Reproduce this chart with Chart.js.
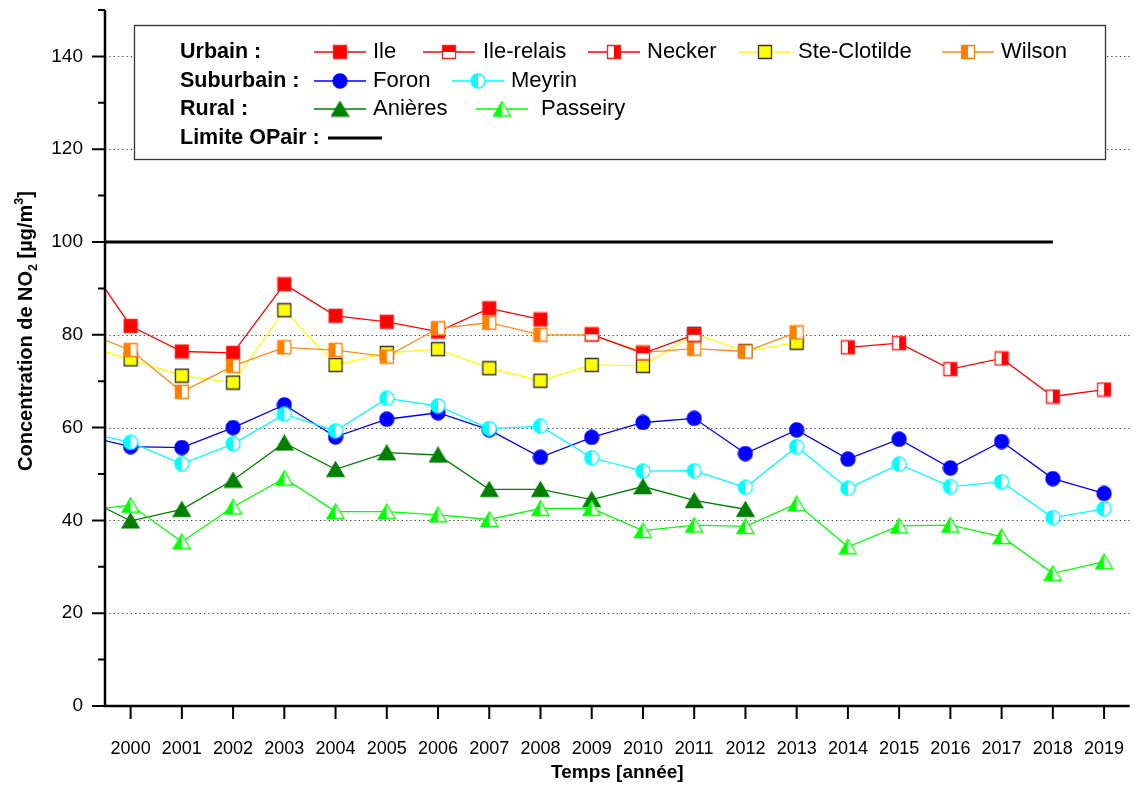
<!DOCTYPE html>
<html>
<head>
<meta charset="utf-8">
<script src="https://cdn.jsdelivr.net/npm/chart.js@4.4.0/dist/chart.umd.min.js"></script>
<style>
  html, body { margin: 0; padding: 0; background: #fff; }
  #wrap { width: 1138px; height: 787px; }
</style>
</head>
<body>
<div id="wrap"><canvas id="no2" width="1138" height="787"></canvas></div>
<script>
// --- data (annual NO2 means, µg/m3) ---
const years = [1999, 2000, 2001, 2002, 2003, 2004, 2005, 2006, 2007, 2008, 2009,
               2010, 2011, 2012, 2013, 2014, 2015, 2016, 2017, 2018, 2019];
const tickYears = years.slice(1);

const ile         = [98, 81.9, 76.4, 76.1, 90.9, 84.1, 82.8, 80.7, 85.7, 83.3, null,
                     null, null, null, null, null, null, null, null, null, null];
const ileRelais   = [null, null, null, null, null, null, null, null, null, null, 80.1,
                     76.0, 80.0, null, null, null, null, null, null, null, null];
const necker      = [null, null, null, null, null, null, null, null, null, null, null,
                     null, null, null, null, 77.3, 78.2, 72.6, 74.9, 66.7, 68.2];
const steClotilde = [78, 74.7, 71.2, 69.7, 85.3, 73.5, 76.1, 76.9, 72.8, 70.1, 73.5,
                     73.3, 80.2, 76.5, 78.3, null, null, null, null, null, null];
const wilson      = [81, 76.7, 67.7, 73.3, 77.3, 76.7, 75.3, 81.4, 82.6, 80.0, 80.0,
                     76.2, 77.0, 76.4, 80.5, null, null, null, null, null, null];
const foron       = [58.5, 55.9, 55.7, 60.0, 64.9, 58.0, 61.8, 63.2, 59.5, 53.6, 57.9,
                     61.1, 62.0, 54.4, 59.5, 53.2, 57.5, 51.3, 57.0, 49.0, 45.8];
const meyrin      = [59.3, 56.8, 52.2, 56.5, 62.9, 59.3, 66.3, 64.7, 59.8, 60.3, 53.5,
                     50.6, 50.7, 47.1, 55.9, 46.9, 52.1, 47.3, 48.3, 40.6, 42.5];
const anieres     = [45.4, 39.9, 42.4, 48.7, 56.7, 51.0, 54.6, 54.1, 46.7, 46.7, 44.5,
                     47.3, 44.3, 42.4, null, null, null, null, null, null, null];
const passeiry    = [42, 43.3, 35.4, 42.9, 49.1, 41.9, 41.9, 41.2, 40.2, 42.6, 42.6,
                     37.8, 39.0, 38.7, 43.6, 34.3, 38.8, 39.0, 36.5, 28.6, 31.1];

const limitYears  = [1999, 2018];
const limitValues = [100, 100];

const yLabelTicks = [0, 20, 40, 60, 80, 100, 120, 140];
const yMinorTicks = [10, 30, 50, 70, 90, 110, 130, 150];
const dottedGrid  = [20, 40, 60, 80, 120, 140];

const FONT = "'Liberation Sans', Arial, sans-serif";

// marker images (some half-filled like in Origin)
function makeMarker(shape, color, border, half) {
  const w = shape === 'triangle' ? 19 : 16;
  const h = shape === 'triangle' ? 17 : 16;
  const c = document.createElement('canvas');
  c.width = w; c.height = h;
  const g = c.getContext('2d');
  const path = () => {
    g.beginPath();
    if (shape === 'square') g.rect(1.5, 1.5, w - 3, h - 3);
    else if (shape === 'circle') g.arc(w / 2, h / 2, w / 2 - 1, 0, Math.PI * 2);
    else { g.moveTo(w / 2, 1); g.lineTo(w - 1, h - 1.5); g.lineTo(1, h - 1.5); g.closePath(); }
  };
  path();
  g.fillStyle = half ? '#fff' : color;
  g.fill();
  if (half) {
    g.save();
    g.beginPath();
    if (half === 'top') g.rect(0, 0, w, h / 2);
    if (half === 'left') g.rect(0, 0, w / 2, h);
    if (half === 'right') g.rect(w / 2, 0, w / 2, h);
    g.clip();
    path();
    g.fillStyle = color;
    g.fill();
    g.restore();
  }
  path();
  g.lineWidth = 1.3;
  g.strokeStyle = border;
  g.stroke();
  return c;
}

const series = [
  { label: 'Ile',          values: ile,         color: '#ff0000', marker: makeMarker('square', '#ff0000', '#ff2020'),            layer: 1 },
  { label: 'Ile-relais',   values: ileRelais,   color: '#ff0000', marker: makeMarker('square', '#ff0000', '#ff2020', 'top'),     layer: 5 },
  { label: 'Necker',       values: necker,      color: '#ff0000', marker: makeMarker('square', '#ff0000', '#ff2020', 'right'),   layer: 2 },
  { label: 'Ste-Clotilde', values: steClotilde, color: '#ffff00', marker: makeMarker('square', '#ffff00', '#333333'),            layer: 3 },
  { label: 'Wilson',       values: wilson,      color: '#ff8c1a', marker: makeMarker('square', '#ff8000', '#ff8000', 'left'),    layer: 4 },
  { label: 'Foron',        values: foron,       color: '#0000ff', marker: makeMarker('circle', '#0000ff', '#0000ff'),            layer: 6 },
  { label: 'Meyrin',       values: meyrin,      color: '#00ffff', marker: makeMarker('circle', '#00ffff', '#00ffff', 'left'),    layer: 7 },
  { label: 'Anières',      values: anieres,     color: '#008000', marker: makeMarker('triangle', '#008000', '#008000'),          layer: 8 },
  { label: 'Passeiry',     values: passeiry,    color: '#00ff00', marker: makeMarker('triangle', '#00ff00', '#00ff00', 'left'),  layer: 9 }
];

const datasets = series.map(s => ({
  label: s.label,
  data: years.map((yr, i) => ({ x: yr, y: s.values[i] })).filter(p => p.y !== null),
  borderColor: s.color,
  borderWidth: 1.3,
  pointStyle: s.marker,
  pointRadius: 7,
  order: -s.layer,
  clip: 0,
  tension: 0
}));
datasets.push({
  label: 'Limite OPair',
  data: limitYears.map((yr, i) => ({ x: yr, y: limitValues[i] })),
  borderColor: '#000',
  borderWidth: 3,
  pointRadius: 0,
  order: -20,
  clip: 0
});

// legend layout in the box
const legendRows = [
  { title: 'Urbain :', y: 52, items: [[0, 314, 373], [1, 423, 483], [2, 588, 647], [3, 739, 798], [4, 942, 1001]] },
  { title: 'Suburbain :', y: 81, items: [[5, 314, 373], [6, 452, 511]] },
  { title: 'Rural :', y: 109, items: [[7, 314, 373], [8, 476, 541]] },
  { title: 'Limite OPair :', y: 138, items: [] }
];

const frame = {
  id: 'frame',
  beforeDatasetsDraw(chart) {
    const { ctx, chartArea: a, scales: { y } } = chart;
    ctx.save();
    ctx.strokeStyle = '#444';
    ctx.lineWidth = 1.2;
    ctx.setLineDash([1.3, 3]);
    dottedGrid.forEach(v => {
      const py = Math.round(y.getPixelForValue(v)) + 0.5;
      ctx.beginPath(); ctx.moveTo(a.left, py); ctx.lineTo(a.right, py); ctx.stroke();
    });
    ctx.restore();
  },
  afterDraw(chart) {
    const { ctx, chartArea: a, scales: { x, y } } = chart;
    ctx.save();
    // axes
    ctx.strokeStyle = '#000';
    ctx.lineWidth = 2.5;
    ctx.beginPath();
    ctx.moveTo(a.left, a.top); ctx.lineTo(a.left, a.bottom); ctx.lineTo(a.right, a.bottom);
    ctx.stroke();
    ctx.lineWidth = 2;
    ctx.beginPath();
    yLabelTicks.forEach(v => { const py = y.getPixelForValue(v); ctx.moveTo(a.left - 13, py); ctx.lineTo(a.left, py); });
    yMinorTicks.forEach(v => { const py = y.getPixelForValue(v); ctx.moveTo(a.left - 7, py); ctx.lineTo(a.left, py); });
    tickYears.forEach(v => { const px = x.getPixelForValue(v); ctx.moveTo(px, a.bottom); ctx.lineTo(px, a.bottom + 13); });
    ctx.stroke();

    // axis titles
    ctx.fillStyle = '#000';
    ctx.textBaseline = 'middle';
    ctx.textAlign = 'center';
    ctx.font = `bold 19px ${FONT}`;
    ctx.fillText('Temps [année]', (a.left + a.right) / 2, 773);

    ctx.save();
    ctx.translate(25, 331);
    ctx.rotate(-Math.PI / 2);
    ctx.textAlign = 'left';
    ctx.textBaseline = 'alphabetic';
    const parts = [
      ['Concentration de NO', 20, 0], ['2', 12.5, 5], [' [µg/m', 20, 0], ['3', 12.5, -9], [']', 20, 0]
    ];
    let total = 0;
    parts.forEach(p => { ctx.font = `bold ${p[1]}px ${FONT}`; total += ctx.measureText(p[0]).width; });
    let cx = -total / 2;
    parts.forEach(p => {
      ctx.font = `bold ${p[1]}px ${FONT}`;
      ctx.fillText(p[0], cx, 7 + p[2]);
      cx += ctx.measureText(p[0]).width;
    });
    ctx.restore();

    // legend box
    ctx.fillStyle = '#fff';
    ctx.fillRect(134, 25, 972, 135);
    ctx.strokeStyle = '#333';
    ctx.lineWidth = 1.3;
    ctx.strokeRect(134.5, 25.5, 971, 134);
    ctx.textAlign = 'left';
    ctx.textBaseline = 'middle';
    legendRows.forEach(row => {
      ctx.fillStyle = '#000';
      ctx.font = `bold 21.5px ${FONT}`;
      ctx.fillText(row.title, 180, row.y);
      row.items.forEach(([idx, sx, tx]) => {
        const ds = chart.data.datasets[idx];
        ctx.strokeStyle = ds.borderColor;
        ctx.lineWidth = 1.3;
        ctx.beginPath(); ctx.moveTo(sx, row.y); ctx.lineTo(sx + 52, row.y); ctx.stroke();
        const m = ds.pointStyle;
        ctx.drawImage(m, sx + 26 - m.width / 2, row.y - m.height / 2);
        ctx.fillStyle = '#000';
        ctx.font = `22px ${FONT}`;
        ctx.fillText(ds.label, tx, row.y);
      });
    });
    // limit sample
    ctx.strokeStyle = '#000';
    ctx.lineWidth = 3;
    ctx.beginPath(); ctx.moveTo(328, 138); ctx.lineTo(382, 138); ctx.stroke();
    ctx.restore();
  }
};

new Chart(document.getElementById('no2'), {
  type: 'line',
  data: { datasets: datasets },
  options: {
    responsive: false,
    animation: false,
    layout: { padding: { top: 10, right: 6, left: 0, bottom: 0 } },
    plugins: { legend: { display: false }, tooltip: { enabled: false } },
    scales: {
      x: {
        type: 'linear',
        min: 1999.5,
        max: 2019.5,
        afterBuildTicks: s => { s.ticks = tickYears.map(v => ({ value: v })); },
        afterFit: s => { s.height = 81; s.paddingLeft = 0; s.paddingRight = 0; },
        border: { display: false },
        grid: { display: false, drawTicks: false },
        ticks: {
          color: '#000', padding: 32, maxRotation: 0, autoSkip: false,
          font: { family: FONT, size: 18 },
          callback: v => String(v)
        }
      },
      y: {
        min: 0,
        max: 150,
        afterBuildTicks: s => { s.ticks = yLabelTicks.map(v => ({ value: v })); },
        afterFit: s => { s.width = 105; s.paddingTop = 0; s.paddingBottom = 0; },
        border: { display: false },
        grid: { display: false, drawTicks: false },
        ticks: { color: '#000', padding: 22, font: { family: FONT, size: 19 } }
      }
    }
  },
  plugins: [frame]
});
</script>
</body>
</html>
